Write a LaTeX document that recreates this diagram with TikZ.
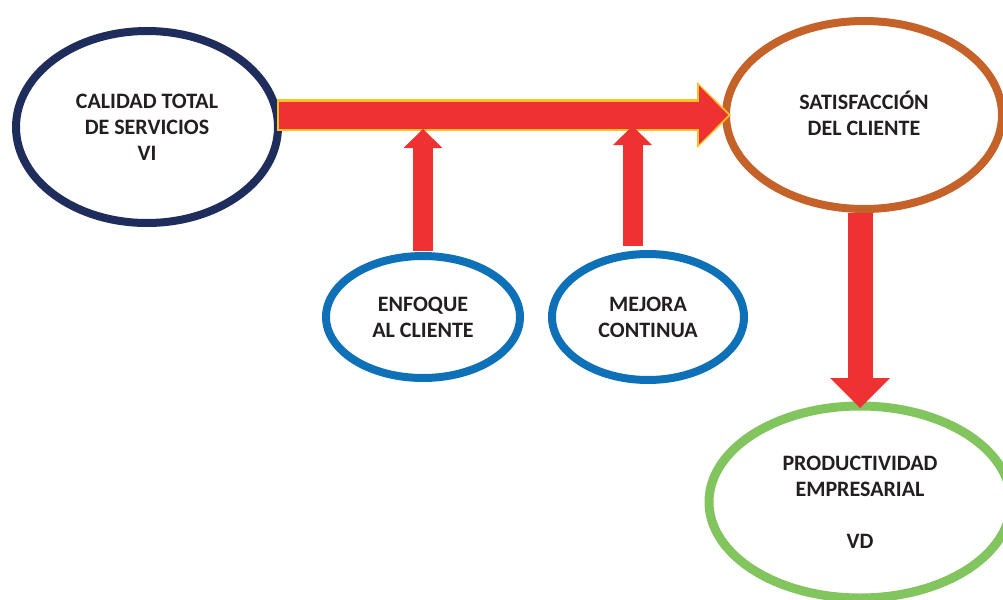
\documentclass[tikz,border=0pt]{standalone}
\usepackage{fontspec}
\setmainfont{Carlito}
\usetikzlibrary{arrows.meta,shapes.geometric}
\definecolor{navyring}{HTML}{1E2D5C}
\definecolor{rustring}{HTML}{C4622A}
\definecolor{bluering}{HTML}{0E71B8}
\definecolor{greenring}{HTML}{82C45E}
\definecolor{arrred}{HTML}{EE3131}
\definecolor{arrgold}{HTML}{FFC126}
\definecolor{txtgray}{HTML}{231F20}
\begin{document}
\begin{tikzpicture}[x=0.5pt,y=-0.5pt,
    elli/.style={ellipse,draw,line width=4pt,inner sep=0pt,align=center,
      font=\fontsize{11}{13}\selectfont\bfseries,text=txtgray},
    goldedge/.style={draw=arrgold,line width=16pt,
      -{Triangle[width=33pt,length=17pt,line width=0pt]}},
    redhoriz/.style={draw=arrred,line width=13.5pt,shorten >=1.5pt,shorten <=1pt,
      -{Triangle[width=29.5pt,length=14.5pt,line width=0pt]}},
    redup/.style={draw=arrred,line width=10pt,
      -{Triangle[width=19.5pt,length=9.5pt,line width=0pt]}},
    reddown/.style={draw=arrred,line width=12.5pt,
      -{Triangle[width=30pt,length=15pt,line width=0pt]}}]
  \useasboundingbox (0,0) rectangle (1003,600);
  %variables
  \node[elli,draw=navyring,minimum width=131pt,minimum height=96pt] (cal) at (147,127)
    {CALIDAD TOTAL\\DE SERVICIOS\\VI};
  \node[elli,draw=rustring,minimum width=138pt,minimum height=94pt] (sat) at (864,115)
    {SATISFACCI\smash{Ó}N\\DEL CLIENTE};
  \node[elli,draw=bluering,minimum width=97pt,minimum height=61pt] (enf) at (423,317)
    {ENFOQUE\\AL CLIENTE};
  \node[elli,draw=bluering,minimum width=96pt,minimum height=63pt] (mej) at (648,317)
    {MEJORA\\CONTINUA};
  \node[elli,draw=greenring,line width=4.5pt,minimum width=151pt,minimum height=96pt] (prod) at (860,502)
    {PRODUCTIVIDAD\\EMPRESARIAL\\[13pt]VD};
  %flechas
  \draw[goldedge] ([xshift=-2.5pt]cal.east |- sat.west) -- ([xshift=4.5pt]sat.west);
  \draw[redhoriz] ([xshift=-2.5pt]cal.east |- sat.west) -- ([xshift=4.5pt]sat.west);
  \draw[redup] ([yshift=0.5pt]enf.north) -- ([yshift=-1pt]enf.north |- cal.east);
  \draw[redup] ([xshift=-7.75pt,yshift=2pt]mej.north) -- ([xshift=-7.75pt,yshift=0.5pt]mej.north |- cal.east);
  \draw[reddown] (sat.south -| prod.north) -- ([yshift=-3.25pt]prod.north);
\end{tikzpicture}
\end{document}
